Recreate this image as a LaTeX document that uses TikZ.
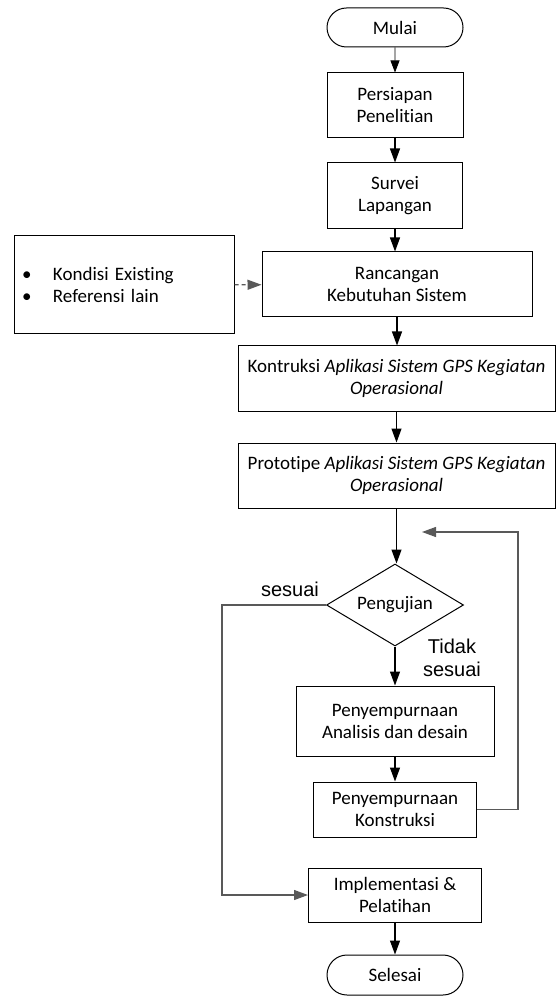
\documentclass[tikz,border=0pt]{standalone}
\usepackage{fontspec}
\setmainfont[Ligatures={NoCommon,NoContextual}, Contextuals=NoAlternate]{Carlito}
\newfontfamily\labelfont{Liberation Sans}
\usepackage{tikz}
\usetikzlibrary{
  arrows.meta,
  positioning,
  shapes.geometric,
  shapes.misc
}
\definecolor{linegray}{HTML}{595959}
\newcommand\bulitem[1]{\makebox[15.5pt][l]{\textbullet}#1}

\begin{document}
\begin{tikzpicture}[
  x=0.5pt, y=-0.5pt,
  >={Triangle[length=7pt,width=5pt]},
  font=\fontsize{9.5}{11}\selectfont,
  proc/.style={draw, line width=0.5pt, align=center, inner sep=0pt},
  term/.style={draw, rounded rectangle, line width=0.5pt, inner sep=0pt,
    minimum width=68pt, minimum height=19.5pt},
  dec/.style={draw, diamond, aspect=2, line width=0.5pt, inner sep=0pt,
    minimum width=68.5pt, minimum height=41pt},
  conn/.style={->, line width=0.6pt},
  back/.style={->, line width=0.6pt, draw=linegray},
  lbl/.style={font={\labelfont\fontsize{10}{11.5}\selectfont}, align=center},
]
  \useasboundingbox (0,0) rectangle (556,999);

  % Main column
  \node[term] (mulai) at (395,27.5) {Mulai};
  \node[proc, minimum width=68pt, minimum height=32.5pt] (persiapan) at (395,105.5) {Persiapan\\Penelitian};
  \node[proc, minimum width=67.5pt, minimum height=33pt] (survei) at (395,196) {Survei\\Lapangan};
  \node[proc, minimum width=135pt, minimum height=32.5pt] (rancangan) at (397,284.5) {Rancangan\\Kebutuhan Sistem};
  \node[proc, minimum width=158.5pt, minimum height=32.5pt] (kontruksi) at (396.5,378.5)
    {Kontruksi \textit{Aplikasi Sistem GPS Kegiatan}\\\textit{Operasional}};
  \node[proc, minimum width=158.5pt, minimum height=32.5pt] (prototipe) at (396.5,475.5)
    {Prototipe \textit{Aplikasi Sistem GPS Kegiatan}\\\textit{Operasional}};
  \node[dec] (uji) at (395,605) {Pengujian};
  \node[proc, minimum width=99pt, minimum height=35pt] (analisis) at (395,721) {Penyempurnaan\\Analisis dan desain};
  \node[proc, minimum width=81.5pt, minimum height=27.5pt] (konstruksi) at (395,809.5) {Penyempurnaan\\Konstruksi};
  \node[proc, minimum width=86.5pt, minimum height=27pt] (implementasi) at (395,895) {Implementasi \&\\Pelatihan};
  \node[term, minimum height=20pt] (selesai) at (395,975) {Selesai};

  % Input box
  \node[proc, text width=102pt, inner xsep=4pt, align=left, minimum height=49pt] (sumber) at (124,285)
    {\bulitem{Kondisi Existing}\\\bulitem{Referensi lain}};

  % Flow
  \draw[conn, line width=0.4pt, >={Triangle[length=6pt,width=4.5pt]}] (mulai) -- (persiapan);
  \draw[conn] (persiapan) -- (survei);
  \draw[conn] (survei.south) -- (survei.south |- rancangan.north);
  \draw[conn] (rancangan.south) -- (rancangan.south |- kontruksi.north);
  \draw[conn] (kontruksi) -- (prototipe);
  \draw[conn] (prototipe.south) -- (prototipe.south |- uji.north);
  \draw[conn] (uji) -- (analisis);
  \draw[conn] (analisis) -- (konstruksi);
  \draw[conn] (implementasi) -- (selesai);
  \draw[conn, draw=linegray, dash pattern=on 2pt off 1.5pt] (sumber) -- (rancangan);

  % Loop back
  \coordinate (loopturn) at (518,532);
  \coordinate (loopend) at (422,532);
  \draw[back] (konstruksi.east) -| (loopturn) -- (loopend);

  % Skip to implementation
  \coordinate (skipturn) at (222,605);
  \draw[back] (uji.west) -- (skipturn) |- (implementasi.west);

  % Decision labels
  \node[lbl] (lblsesuai) at (290,589) {sesuai};
  \node[lbl] (lbltidak) at (452,658) {Tidak\\sesuai};
\end{tikzpicture}
\end{document}
